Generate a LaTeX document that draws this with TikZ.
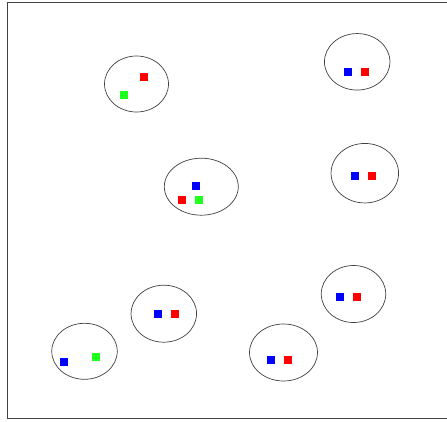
\documentclass[tikz,border=0pt]{standalone}
\usetikzlibrary{shapes.geometric}
\tikzset{
  grp/.style={draw=black!75, line width=0.7pt, ellipse, inner sep=0pt},
  sq/.style={rectangle, minimum size=8pt, inner sep=0pt, draw=none},
  bsq/.style={sq, fill=blue},
  rsq/.style={sq, fill=red},
  gsq/.style={sq, fill={rgb,255:red,30;green,255;blue,30}},
}
\begin{document}
\begin{tikzpicture}[x=1pt,y=-1pt]
\useasboundingbox (0,0) rectangle (447,421);
\coordinate (tl) at (7.5,2.5);
\coordinate (tr) at (448,2.5);
\coordinate (bl) at (7.5,418.5);
\coordinate (br) at (448,418.5);
\draw[black!75, line width=1pt] (tr) -- (tl) -- (bl) -- (br);
% groups
\node[grp, minimum width=64pt, minimum height=56pt] (e1) at (136.5,84) {};
\node[grp, minimum width=74pt, minimum height=57pt] (e2) at (201.3,186.7) {};
\node[grp, minimum width=65.5pt, minimum height=56pt] (e3) at (84.5,351.3) {};
\node[grp, minimum width=65.5pt, minimum height=57pt] (e4) at (163.8,313.7) {};
\node[grp, minimum width=64.5pt, minimum height=57pt] (e5) at (353.5,294) {};
\node[grp, minimum width=68pt, minimum height=57pt] (e6) at (283.5,352.5) {};
\node[grp, minimum width=65.5pt, minimum height=56.5pt] (e7) at (357.2,61.8) {};
\node[grp, minimum width=67.5pt, minimum height=59.5pt] (e8) at (364.8,173.2) {};
% squares
\node[rsq] (r1) at (144.3,76.7) {};
\node[gsq] (g1) at (124.3,94.7) {};
\node[bsq] (b2) at (196.3,185.7) {};
\node[rsq] (r2) at (182.3,199.7) {};
\node[gsq] (g2) at (199.3,199.7) {};
\node[bsq] (b3) at (64.3,361.7) {};
\node[gsq] (g3) at (96.3,356.7) {};
\node[bsq] (b4) at (157.7,313.7) {};
\node[rsq] (r4) at (174.7,313.7) {};
\node[bsq] (b5) at (339.7,296.7) {};
\node[rsq] (r5) at (356.7,296.7) {};
\node[bsq] (b6) at (270.7,360) {};
\node[rsq] (r6) at (287.7,360) {};
\node[bsq] (b7) at (348.3,72.3) {};
\node[rsq] (r7) at (365.3,72.3) {};
\node[bsq] (b8) at (354.7,176) {};
\node[rsq] (r8) at (371.7,176) {};
\end{tikzpicture}
\end{document}
